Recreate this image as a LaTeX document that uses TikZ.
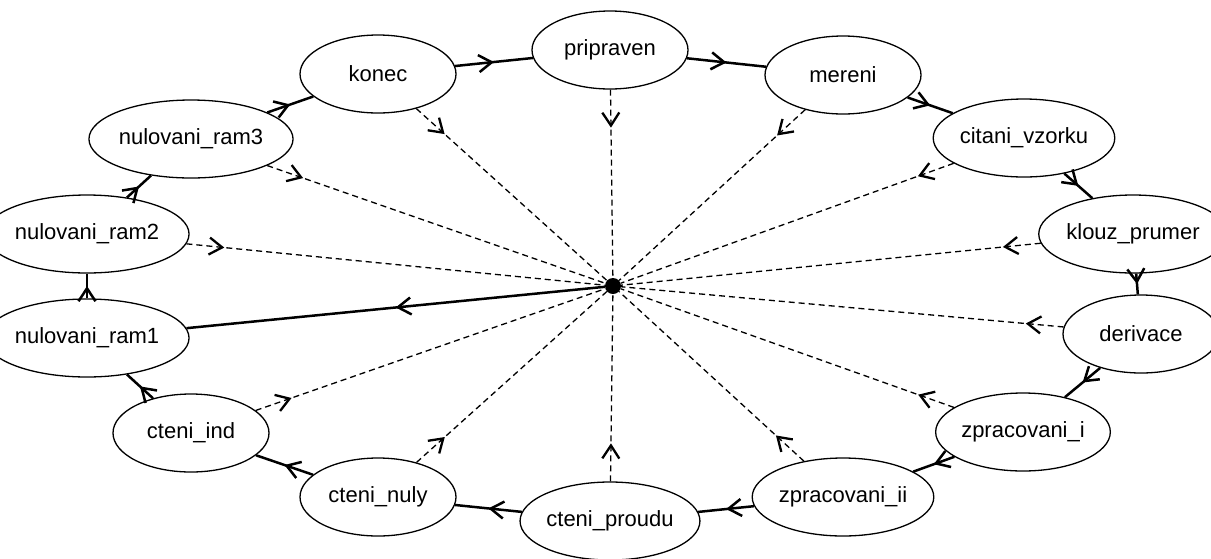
\documentclass[tikz,border=0pt]{standalone}
\usepackage{fontspec}
\setmainfont{Liberation Sans}
\usetikzlibrary{shapes.geometric,arrows.meta,decorations.markings}

\tikzset{
  vee/.tip={Straight Barb[length=13pt,width=17pt]},
  state/.style={ellipse, draw, line width=1.3pt, minimum width=156pt,
    minimum height=78pt, inner sep=0pt, font=\fontsize{22}{26}\selectfont},
  flow/.style={line width=2.5pt, postaction={decorate},
    decoration={markings, mark=at position 0.5 with {\pgfsetlinewidth{2.5pt}\arrow{vee}}}},
  link/.style={line width=1.3pt, dash pattern=on 6pt off 4pt, postaction={decorate},
    decoration={markings, mark=at position 38pt with {\pgfsetlinewidth{2.3pt}\arrow{vee}}}},
  hubdot/.style={circle, fill=black, inner sep=0pt, minimum size=16pt}
}

\begin{document}
\begin{tikzpicture}[x=1pt,y=-1pt]
  \useasboundingbox (0,0) rectangle (1211,558);

  % states of the cycle
  \node[state] (pripraven) at (610,50)  {pripraven};
  \node[state] (mereni)    at (843,75)  {mereni};
  \node[state] (citani)    at (1024,138) {citani\_vzorku};
  \node[state] (klouz)     at (1133,234) {klouz\_prumer};
  \node[state] (derivace)  at (1141,334) {derivace};
  \node[state] (zprI)      at (1023,432) {zpracovani\_i};
  \node[state] (zprII)     at (843,497) {zpracovani\_ii};
  \node[state] (proud)     at (610,521) {cteni\_proudu};
  \node[state] (nuly)      at (378,497) {cteni\_nuly};
  \node[state] (ind)       at (191,433) {cteni\_ind};
  \node[state] (ram1)      at (87,338)  {nulovani\_ram1};
  \node[state] (ram2)      at (87,234)  {nulovani\_ram2};
  \node[state] (ram3)      at (191,139) {nulovani\_ram3};
  \node[state] (konec)     at (378,74)  {konec};

  % common junction
  \node[hubdot] (hub) at (613,286) {};

  % main cycle
  \draw[flow] (konec) -- (pripraven);
  \draw[flow] (pripraven) -- (mereni);
  \draw[flow] (mereni) -- (citani);
  \draw[flow] (citani) -- (klouz);
  \draw[flow] (klouz) -- (derivace);
  \draw[flow] (derivace) -- (zprI);
  \draw[flow] (zprI) -- (zprII);
  \draw[flow] (zprII) -- (proud);
  \draw[flow] (proud) -- (nuly);
  \draw[flow] (nuly) -- (ind);
  \draw[flow] (ind) -- (ram1);
  \draw[flow] (ram1) -- (ram2);
  \draw[flow] (ram2) -- (ram3);
  \draw[flow] (ram3) -- (konec);

  % every state may jump to the junction
  \foreach \s in {pripraven,mereni,citani,klouz,derivace,zprI,zprII,proud,nuly,ind,ram2,ram3,konec}
    \draw[link] (\s) -- (hub);

  % junction restarts at nulovani_ram1
  \draw[flow] (hub) -- (ram1);
\end{tikzpicture}
\end{document}
